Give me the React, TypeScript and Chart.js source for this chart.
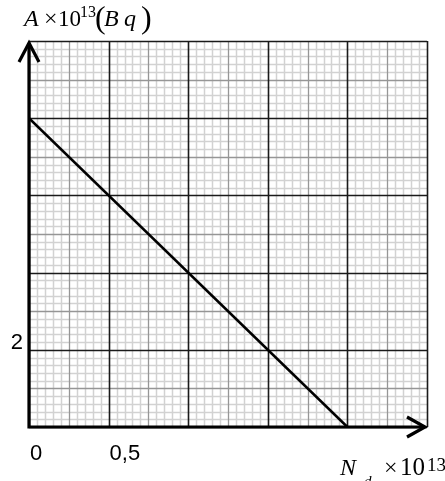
import React, { useEffect, useRef } from "react";
import { Chart, registerables } from "chart.js";

Chart.register(...registerables);

// Data
const nd: number[] = [0, 2]; // N_d ×10^13
const activity: number[] = [8, 0]; // A ×10^13 (Bq)

const xTickValues: number[] = [0, 0.5];
const xTickLabels: string[] = ["0", "0,5"];
const yTickValues: number[] = [2];
const yTickLabels: string[] = ["2"];

const X_MAX = 2.5;
const Y_MAX = 10;
const X_MINOR = 0.05;
const X_MID = 0.25;
const X_MAJOR = 0.5;
const Y_MINOR = 0.2;
const Y_MID = 1;
const Y_MAJOR = 2;

const SERIF = "'Liberation Serif', 'Times New Roman', serif";
const SANS = "'Liberation Sans', Arial, sans-serif";

function isMultiple(v: number, step: number) {
  const r = v / step;
  return Math.abs(r - Math.round(r)) < 1e-6;
}

const gridPlugin = {
  id: "paperGrid",
  beforeDatasetsDraw(chart: any) {
    const { ctx, chartArea, scales } = chart;
    const xs = scales.x;
    const ys = scales.y;
    ctx.save();
    const drawLayer = (kind: number) => {
      const nX = Math.round(X_MAX / X_MINOR);
      for (let i = 0; i <= nX; i++) {
        const v = i * X_MINOR;
        const k = isMultiple(v, X_MAJOR) ? 2 : isMultiple(v, X_MID) ? 1 : 0;
        if (k !== kind) continue;
        const px = Math.round(xs.getPixelForValue(v)) + 0.5;
        ctx.beginPath();
        ctx.moveTo(px, chartArea.top);
        ctx.lineTo(px, chartArea.bottom);
        ctx.stroke();
      }
      const nY = Math.round(Y_MAX / Y_MINOR);
      for (let i = 0; i <= nY; i++) {
        const v = i * Y_MINOR;
        const k = isMultiple(v, Y_MAJOR) ? 2 : isMultiple(v, Y_MID) ? 1 : 0;
        if (k !== kind) continue;
        const py = Math.round(ys.getPixelForValue(v)) + 0.5;
        ctx.beginPath();
        ctx.moveTo(chartArea.left, py);
        ctx.lineTo(chartArea.right, py);
        ctx.stroke();
      }
    };
    ctx.strokeStyle = "#d2d2d2";
    ctx.lineWidth = 1.5;
    drawLayer(0);
    ctx.strokeStyle = "#969696";
    ctx.lineWidth = 1.3;
    drawLayer(1);
    ctx.strokeStyle = "#1a1a1a";
    ctx.lineWidth = 1.6;
    drawLayer(2);
    ctx.restore();
  },
};

const axesPlugin = {
  id: "axesArrows",
  afterDatasetsDraw(chart: any) {
    const { ctx, scales } = chart;
    const xs = scales.x;
    const ys = scales.y;
    const x0 = xs.getPixelForValue(0);
    const xEnd = xs.getPixelForValue(X_MAX);
    const y0 = ys.getPixelForValue(0);
    const yEnd = ys.getPixelForValue(Y_MAX);
    ctx.save();
    ctx.strokeStyle = "#000";
    ctx.lineWidth = 3.2;
    ctx.lineCap = "butt";
    ctx.beginPath();
    ctx.moveTo(x0, y0 + 1.5);
    ctx.lineTo(x0, yEnd + 2);
    ctx.moveTo(x0 - 1.5, y0);
    ctx.lineTo(xEnd - 2, y0);
    ctx.stroke();
    ctx.lineJoin = "miter";
    ctx.beginPath();
    ctx.moveTo(x0 - 10, yEnd + 21);
    ctx.lineTo(x0, yEnd + 2);
    ctx.lineTo(x0 + 10, yEnd + 21);
    ctx.stroke();
    ctx.beginPath();
    ctx.moveTo(xEnd - 20, y0 - 10);
    ctx.lineTo(xEnd - 2, y0);
    ctx.lineTo(xEnd - 20, y0 + 10);
    ctx.stroke();

    // tick labels
    ctx.fillStyle = "#000";
    ctx.font = `22px ${SANS}`;
    ctx.textBaseline = "alphabetic";
    ctx.textAlign = "left";
    xTickValues.forEach((v, i) => {
      ctx.fillText(xTickLabels[i], xs.getPixelForValue(v) + 1, y0 + 33);
    });
    ctx.textAlign = "right";
    yTickValues.forEach((v, i) => {
      ctx.fillText(yTickLabels[i], x0 - 6, ys.getPixelForValue(v) - 1);
    });

    // y axis title: A ×10^13 (Bq)
    ctx.textAlign = "left";
    ctx.font = `italic 24px ${SERIF}`;
    ctx.fillText("A", 24, 26);
    ctx.font = `24px ${SERIF}`;
    ctx.fillText("×", 44, 26);
    ctx.font = `23px ${SERIF}`;
    ctx.fillText("10", 58, 26);
    ctx.font = `16px ${SERIF}`;
    ctx.fillText("13", 80, 17);
    ctx.font = `32px ${SERIF}`;
    ctx.fillText("(", 95, 28);
    ctx.font = `italic 24px ${SERIF}`;
    ctx.fillText("B", 104, 26);
    ctx.fillText("q", 124, 26);
    ctx.font = `32px ${SERIF}`;
    ctx.fillText(")", 141, 28);

    // x axis title: N_d ×10^13
    ctx.font = `italic 24px ${SERIF}`;
    ctx.fillText("N", 340, 475);
    ctx.font = `italic 15px ${SERIF}`;
    ctx.fillText("d", 364, 486);
    ctx.font = `24px ${SERIF}`;
    ctx.fillText("×", 384, 475);
    ctx.font = `25px ${SERIF}`;
    ctx.fillText("10", 400, 475);
    ctx.font = `19px ${SERIF}`;
    ctx.fillText("13", 427, 471);
    ctx.restore();
  },
};

export default function App() {
  const canvasRef = useRef<HTMLCanvasElement | null>(null);

  useEffect(() => {
    if (!canvasRef.current) return;
    const chart = new Chart(canvasRef.current, {
      type: "scatter",
      data: {
        datasets: [
          {
            data: nd.map((x, i) => ({ x, y: activity[i] })),
            showLine: true,
            borderColor: "#000",
            borderWidth: 2.6,
            pointRadius: 0,
            fill: false,
          },
        ],
      },
      options: {
        animation: false,
        responsive: false,
        maintainAspectRatio: false,
        layout: { padding: { left: 29, right: 18, top: 41, bottom: 54 } },
        plugins: { legend: { display: false }, tooltip: { enabled: false } },
        scales: {
          x: { type: "linear", min: 0, max: X_MAX, display: false },
          y: { type: "linear", min: 0, max: Y_MAX, display: false },
        },
      },
      plugins: [gridPlugin, axesPlugin],
    });
    return () => chart.destroy();
  }, []);

  return (
    <div style={{ position: "fixed", left: 0, top: 0, width: 445, height: 481, background: "#fff" }}>
      <canvas ref={canvasRef} width={445} height={481} style={{ display: "block" }} />
    </div>
  );
}
